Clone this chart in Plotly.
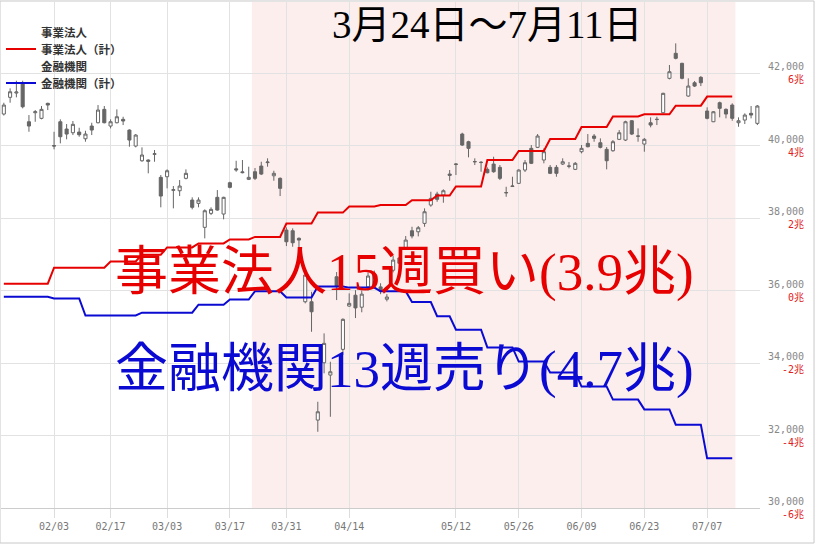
import plotly.graph_objects as go
import pandas as pd

# ---------------- data ----------------
dates = [
    "2025-01-22", "2025-01-23", "2025-01-24", "2025-01-27", "2025-01-28", "2025-01-29", "2025-01-30", "2025-01-31",
    "2025-02-03", "2025-02-04", "2025-02-05", "2025-02-06", "2025-02-07", "2025-02-10", "2025-02-12", "2025-02-13", "2025-02-14",
    "2025-02-17", "2025-02-18", "2025-02-19", "2025-02-20", "2025-02-21", "2025-02-25", "2025-02-26", "2025-02-27", "2025-02-28",
    "2025-03-03", "2025-03-04", "2025-03-05", "2025-03-06", "2025-03-07", "2025-03-10", "2025-03-11", "2025-03-12", "2025-03-13", "2025-03-14",
    "2025-03-17", "2025-03-18", "2025-03-19", "2025-03-21", "2025-03-24", "2025-03-25", "2025-03-26", "2025-03-27", "2025-03-28", "2025-03-31",
    "2025-04-01", "2025-04-02", "2025-04-03", "2025-04-04", "2025-04-07", "2025-04-08", "2025-04-09", "2025-04-10", "2025-04-11",
    "2025-04-14", "2025-04-15", "2025-04-16", "2025-04-17", "2025-04-18", "2025-04-21", "2025-04-22", "2025-04-23", "2025-04-24", "2025-04-25",
    "2025-04-28", "2025-04-30", "2025-05-01", "2025-05-02", "2025-05-07", "2025-05-08", "2025-05-09",
    "2025-05-12", "2025-05-13", "2025-05-14", "2025-05-15", "2025-05-16", "2025-05-19", "2025-05-20", "2025-05-21", "2025-05-22", "2025-05-23",
    "2025-05-26", "2025-05-27", "2025-05-28", "2025-05-29", "2025-05-30",
    "2025-06-02", "2025-06-03", "2025-06-04", "2025-06-05", "2025-06-06",
    "2025-06-09", "2025-06-10", "2025-06-11", "2025-06-12", "2025-06-13",
    "2025-06-16", "2025-06-17", "2025-06-18", "2025-06-19", "2025-06-20",
    "2025-06-23", "2025-06-24", "2025-06-25", "2025-06-26", "2025-06-27",
    "2025-06-30", "2025-07-01", "2025-07-02", "2025-07-03", "2025-07-04",
    "2025-07-07", "2025-07-08", "2025-07-09", "2025-07-10", "2025-07-11",
    "2025-07-14", "2025-07-15", "2025-07-16", "2025-07-17",
]

open_ = [
    40869, 41330, 41448, 41716, 40656, 40905, 40750, 41164,
    40000, 40656, 40455, 40353, 40372, 40187, 40538, 40629, 40998,
    40538, 40629, 40723, 40427, 39986, 39580, 39600, 39757, 39122,
    39139, 38764, 38753, 39095, 38496, 38405, 37743, 38129, 38571, 38110,
    38973, 39357, 39274, 39067, 39277, 39434, 39528, 39166, 39095, 37668,
    37649, 37440, 35690, 35690, 32426, 34007, 33668, 36380, 34377,
    35571, 35870, 35540, 36100, 36150, 36100, 35760, 36560, 36900, 37136,
    37649, 37621, 37853, 38358, 38662, 38634, 39213,
    39476, 40317, 40105, 39558, 39531, 39343, 39489, 39398, 38703, 38869,
    38957, 39324, 39922, 39950, 39600,
    39398, 39398, 39489, 39428, 39343,
    39829, 40060, 40262, 40077, 39895,
    39857, 40171, 40151, 40684, 40256,
    40041, 40629, 40717, 40905, 41854,
    42544, 42268, 41365, 41732, 41881,
    40952, 40656, 41181, 40998, 41117,
    40629, 40703, 40888, 40612,
]
high = [
    41181, 41578, 41788, 41788, 40841, 40979, 41090, 41181,
    40380, 40723, 40593, 40676, 40491, 40408, 40629, 41117, 41090,
    40723, 40998, 40794, 40447, 40317, 39950, 39619, 39876, 39186,
    39343, 38882, 39048, 39343, 38571, 38571, 38239, 38295, 38772, 38588,
    39001, 39580, 39600, 39416, 39379, 39553, 39647, 39304, 39122, 37743,
    37715, 37467, 36518, 35966, 32931, 34818, 34035, 36509, 35232,
    35922, 36010, 36000, 36500, 36550, 36200, 35900, 36950, 37000, 37503,
    37759, 37779, 38267, 38725, 38725, 38791, 39324,
    39508, 40353, 40132, 39647, 39572, 39398, 39691, 39462, 38863, 39139,
    39343, 39600, 40013, 40317, 39922,
    39462, 39462, 39647, 39545, 39545,
    40013, 40317, 40317, 40198, 39958,
    40151, 40427, 40684, 40703, 40474,
    40207, 40778, 40794, 41457, 42221,
    42819, 42284, 41854, 41779, 41917,
    41054, 40952, 41211, 41026, 41164,
    40778, 40888, 41090, 41117,
]
low = [
    40827, 41181, 41330, 41026, 40380, 40656, 40723, 40979,
    39895, 40060, 40171, 40289, 40243, 40105, 40289, 40612, 40612,
    40474, 40612, 40565, 39967, 39950, 39553, 39233, 39553, 38295,
    38819, 38267, 38606, 39067, 38239, 38295, 37439, 38082, 38201, 37964,
    38819, 39277, 39233, 39048, 39048, 39186, 39416, 39029, 38606, 37227,
    37208, 37163, 35646, 34862, 32103, 33715, 32517, 35737, 34220,
    35552, 35240, 35400, 36000, 36100, 35900, 35700, 36500, 36650, 37117,
    37439, 37494, 37759, 38311, 38449, 38422, 39029,
    39186, 39986, 39674, 39462, 39277, 39233, 39249, 39048, 38587, 38863,
    38946, 39269, 39489, 39931, 39509,
    39213, 39139, 39462, 39371, 39324,
    39784, 39950, 40105, 39922, 39343,
    39829, 40151, 40124, 40289, 40105,
    39829, 40502, 40565, 40888, 41826,
    42378, 41826, 41346, 41614, 41641,
    40723, 40648, 40778, 40750, 40684,
    40518, 40593, 40750, 40565,
]
close = [
    41117, 41484, 41476, 41070, 40538, 40932, 40998, 41117,
    39986, 40243, 40317, 40585, 40298, 40317, 40427, 40979, 40629,
    40656, 40794, 40676, 40151, 40289, 39738, 39564, 39773, 38606,
    39304, 38781, 38882, 39233, 38295, 38496, 38201, 38239, 38220, 38571,
    38846, 39330, 39253, 39122, 39095, 39213, 39544, 39233, 38819, 37345,
    37318, 37392, 36427, 35414, 32655, 34542, 33759, 36104, 35205,
    35646, 35520, 35900, 36400, 36450, 35980, 35820, 36840, 36750, 37392,
    37503, 37732, 38173, 38543, 38515, 38753, 39177,
    39489, 40013, 39922, 39553, 39536, 39249, 39277, 39095, 38697, 38882,
    39324, 39526, 39509, 40262, 39829,
    39233, 39233, 39553, 39434, 39509,
    39922, 39967, 40198, 39950, 39580,
    40105, 40353, 40656, 40317, 40262,
    40171, 40565, 40723, 41440, 42036,
    42406, 41854, 41641, 41641, 41732,
    40750, 40932, 41026, 40869, 40750,
    40684, 40841, 40841, 41090,
]

# weekly cumulative net flows (trillion yen), one value per week (Monday date)
week_start = [
    "2025-01-20", "2025-01-27", "2025-02-03", "2025-02-10", "2025-02-17", "2025-02-24",
    "2025-03-03", "2025-03-10", "2025-03-17", "2025-03-24", "2025-03-31", "2025-04-07",
    "2025-04-14", "2025-04-21", "2025-04-28", "2025-05-05", "2025-05-12", "2025-05-19",
    "2025-05-26", "2025-06-02", "2025-06-09", "2025-06-16", "2025-06-23", "2025-06-30",
    "2025-07-07",
]
corp_cum = [0.19, 0.19, 0.63, 0.63, 0.80, 0.99, 1.19, 1.30, 1.41, 1.48, 1.85, 2.15,
            2.32, 2.36, 2.49, 2.62, 2.87, 3.60, 3.85, 4.18, 4.51, 4.80, 4.86, 5.10, 5.35]
fin_cum = [-0.17, -0.17, -0.22, -0.69, -0.69, -0.61, -0.61, -0.39, -0.25, -0.02, -0.19, 0.11,
           0.08, -0.02, -0.32, -0.71, -1.08, -1.57, -1.96, -2.26, -2.65, -3.01, -3.28, -3.70, -4.63]

tick_dates = ["2025-02-03", "2025-02-17", "2025-03-03", "2025-03-17", "2025-03-31", "2025-04-14",
              "2025-05-12", "2025-05-26", "2025-06-09", "2025-06-23", "2025-07-07"]
tick_text = ["02/03", "02/17", "03/03", "03/17", "03/31", "04/14",
             "05/12", "05/26", "06/09", "06/23", "07/07"]
price_ticks = [30000, 32000, 34000, 36000, 38000, 40000, 42000]
flow_ticks = [-6, -4, -2, 0, 2, 4, 6]

legend_names = ["事業法人", "事業法人（計）", "金融機関", "金融機関（計）"]
highlight_start = "2025-03-24"
highlight_end = "2025-07-11"
title_text = "3月24日～7月11日"
corp_label = "事業法人15週買い(3.9兆)"
fin_label = "金融機関13週売り(4.7兆)"

# --------------- build daily step series from weekly values ---------------
wk_corp = dict(zip(week_start, corp_cum))
wk_fin = dict(zip(week_start, fin_cum))
line_x, corp_y, fin_y = [], [], []
for d in dates:
    if d > highlight_end:
        break
    ts = pd.Timestamp(d)
    wk = (ts - pd.Timedelta(days=ts.weekday())).strftime("%Y-%m-%d")
    line_x.append(d)
    corp_y.append(wk_corp[wk])
    fin_y.append(wk_fin[wk])

# --------------- figure ---------------
Y0, Y1 = 30000, 43960
Z0, Z1 = (Y0 - 36000) / 1000, (Y1 - 36000) / 1000
RED = "#e60000"
BLUE = "#0a0ad2"

fig = go.Figure()
fig.add_trace(go.Candlestick(
    x=dates, open=open_, high=high, low=low, close=close,
    increasing=dict(line=dict(color="#666666", width=1), fillcolor="#ffffff"),
    decreasing=dict(line=dict(color="#666666", width=1), fillcolor="#666666"),
    showlegend=False, hoverinfo="skip",
))
fig.add_trace(go.Scatter(x=[None], y=[None], mode="lines", line=dict(width=0, color="rgba(0,0,0,0)"),
                         name=legend_names[0], yaxis="y2", legend="legend"))
fig.add_trace(go.Scatter(x=line_x, y=corp_y, mode="lines", line=dict(color=RED, width=2),
                         name=legend_names[1], yaxis="y2", legend="legend2"))
fig.add_trace(go.Scatter(x=[None], y=[None], mode="lines", line=dict(width=0, color="rgba(0,0,0,0)"),
                         name=legend_names[2], yaxis="y2", legend="legend3"))
fig.add_trace(go.Scatter(x=line_x, y=fin_y, mode="lines", line=dict(color=BLUE, width=2),
                         name=legend_names[3], yaxis="y2", legend="legend4"))

i0 = dates.index(highlight_start) - 0.5
i1 = dates.index(highlight_end) + 0.5
shapes = [
    dict(type="rect", xref="x", yref="paper", x0=i0, x1=i1, y0=0, y1=1,
         fillcolor="#fdeeee", line=dict(width=0), layer="below"),
    dict(type="rect", xref="paper", yref="paper", x0=-0.0013, x1=1.0712, y0=-0.0692, y1=1.002,
         line=dict(color="#c8c8c8", width=1), fillcolor="rgba(0,0,0,0)", layer="above"),
]

annotations = []
for v, z in zip(price_ticks, flow_ticks):
    annotations.append(dict(
        xref="paper", yref="y", x=1.0607, y=v, xanchor="right", yanchor="middle", align="right",
        showarrow=False,
        text=f"{v:,}<br><span style='color:#e02020'>{z}兆</span>",
        font=dict(family="DejaVu Sans Mono, Noto Sans CJK JP", size=10, color="#888888"),
    ))
big_font = "Liberation Serif, Noto Sans CJK JP"
annotations += [
    dict(xref="paper", yref="paper", x=0.641, y=0.955, text=title_text, showarrow=False,
         xanchor="center", yanchor="middle", font=dict(family=big_font, size=39, color="#000000")),
    dict(xref="paper", yref="paper", x=0.532, y=0.466, text=corp_label, showarrow=False,
         xanchor="center", yanchor="middle", font=dict(family=big_font, size=53, color=RED)),
    dict(xref="paper", yref="paper", x=0.532, y=0.273, text=fin_label, showarrow=False,
         xanchor="center", yanchor="middle", font=dict(family=big_font, size=53, color=BLUE)),
]

leg_font = dict(family="Noto Sans CJK JP", size=11.5, color="#333333", weight="bold")
leg_common = dict(x=0.0, xanchor="left", yanchor="middle", bgcolor="rgba(0,0,0,0)",
                  font=leg_font, itemclick=False, itemdoubleclick=False, borderwidth=0)

fig.update_layout(
    width=816, height=544,
    margin=dict(l=1, r=56, t=2, b=36),
    paper_bgcolor="#ffffff", plot_bgcolor="#ffffff",
    shapes=shapes, annotations=annotations,
    showlegend=True,
    legend=dict(y=(508 - 32) / 506, **leg_common),
    legend2=dict(y=(508 - 49) / 506, **leg_common),
    legend3=dict(y=(508 - 66) / 506, **leg_common),
    legend4=dict(y=(508 - 83) / 506, **leg_common),
    xaxis=dict(type="category", range=[-0.45, 120.42], rangeslider=dict(visible=False),
               tickmode="array", tickvals=tick_dates, ticktext=tick_text,
               showgrid=True, gridcolor="#e2e2e2", gridwidth=1,
               ticks="outside", ticklen=9, tickcolor="#dddddd",
               showline=True, linecolor="#cccccc",
               tickfont=dict(family="DejaVu Sans Mono", size=10, color="#777777")),
    yaxis=dict(range=[Y0, Y1], side="right", tickmode="array", tickvals=price_ticks,
               showticklabels=False, showgrid=True, gridcolor="#e2e2e2", zeroline=False,
               fixedrange=True),
    yaxis2=dict(range=[Z0, Z1], overlaying="y", side="right", visible=False, showgrid=False),
)

fig.write_html("out.html", config={"displayModeBar": False},
               post_script="document.body.style.margin='0px';document.body.style.overflow='hidden';")
